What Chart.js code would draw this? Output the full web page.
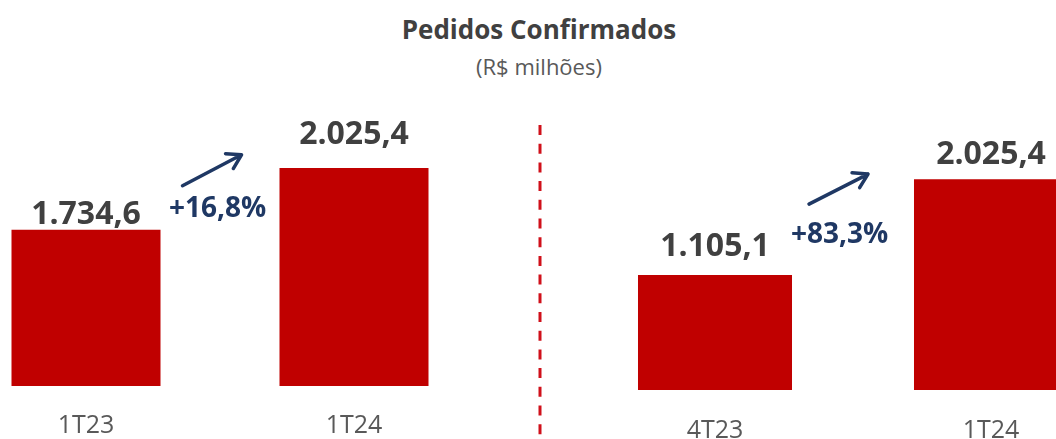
<!DOCTYPE html>
<html>
<head>
<meta charset="utf-8">
<script src="https://cdn.jsdelivr.net/npm/chart.js@4.4.1/dist/chart.umd.min.js"></script>
<style>
body { margin: 0; width: 1056px; height: 439px; overflow: hidden; position: relative; background: #fff; font-family: "Open Sans", sans-serif; }
#title { position: absolute; left: 0; width: 1078px; top: 16px; text-align: center; font-size: 26px; line-height: 26px; font-weight: bold; color: #404040; }
#sub { position: absolute; left: 0; width: 1078px; top: 55px; text-align: center; font-size: 22px; line-height: 22px; color: #595959; }
#sep { position: absolute; left: 538px; top: 125px; }
#left { position: absolute; left: -48px; top: 67px; }
#right { position: absolute; left: 577px; top: 130px; }
</style>
</head>
<body>
<div id="title">Pedidos Confirmados</div>
<div id="sub">(R$ milhões)</div>
<svg id="sep" width="6" height="320"><line x1="2" y1="0" x2="2" y2="320" stroke="#d0101a" stroke-width="3" stroke-dasharray="10 8.7"/></svg>
<canvas id="left" width="536" height="399"></canvas>
<canvas id="right" width="552" height="342"></canvas>
<script>
// annual comparison (1T23 x 1T24)
const yoyLabels = ['1T23', '1T24'];
const yoyValues = [1734.6, 2025.4];
// quarter comparison (4T23 x 1T24)
const qoqLabels = ['4T23', '1T24'];
const qoqValues = [1105.1, 2025.4];

const RED = '#c00000';
const NAVY = '#1f3864';

function fmt(v) {
    // pt-BR style: 1.734,6
    let s = v.toFixed(1).split('.');
    let int = s[0].replace(/\B(?=(\d{3})+(?!\d))/g, '.');
    return int + ',' + s[1];
}

const labelsPlugin = {
    id: 'barLabels',
    afterDatasetsDraw(chart, args, opts) {
        const ctx = chart.ctx;
        const bars = chart.getDatasetMeta(0).data;
        const values = chart.data.datasets[0].data;
        ctx.save();
        ctx.font = 'bold 32px "Open Sans"';
        ctx.fillStyle = '#404040';
        ctx.textAlign = 'center';
        ctx.textBaseline = 'alphabetic';
        bars.forEach((bar, i) => {
            ctx.fillText(fmt(values[i]), bar.x, bar.y - opts.gap[i]);
        });

        // growth arrow + percentage
        const g = opts.growth;
        const m = (bars[0].x + bars[0].width / 2 + bars[1].x - bars[1].width / 2) / 2;
        const t = bars[0].y;
        const pct = (values[1] / values[0] - 1) * 100;
        ctx.font = 'bold 28px "Open Sans"';
        ctx.fillStyle = NAVY;
        ctx.fillText('+' + fmt(pct) + '%', m + g.text[0], t + g.text[1]);

        const x1 = m + g.arrow[0], y1 = t + g.arrow[1];
        const x2 = m + g.arrow[2], y2 = t + g.arrow[3];
        const ang = Math.atan2(y2 - y1, x2 - x1);
        const head = 16;
        ctx.strokeStyle = NAVY;
        ctx.lineWidth = 3.5;
        ctx.lineCap = 'round';
        ctx.lineJoin = 'round';
        ctx.beginPath();
        ctx.moveTo(x1, y1);
        ctx.lineTo(x2, y2);
        ctx.moveTo(x2 - head * Math.cos(ang - 0.55), y2 - head * Math.sin(ang - 0.55));
        ctx.lineTo(x2, y2);
        ctx.lineTo(x2 - head * Math.cos(ang + 0.55), y2 - head * Math.sin(ang + 0.55));
        ctx.stroke();
        ctx.restore();
    }
};

function makeChart(id, labels, values, yMin, barPct, tickPad, labelOpts) {
    const ctx = document.getElementById(id).getContext('2d');
    return new Chart(ctx, {
        type: 'bar',
        data: {
            labels: labels,
            datasets: [{
                data: values,
                backgroundColor: RED,
                categoryPercentage: 1,
                barPercentage: barPct
            }]
        },
        options: {
            responsive: false,
            animation: false,
            layout: { padding: 0 },
            plugins: {
                legend: { display: false },
                tooltip: { enabled: false },
                barLabels: labelOpts
            },
            scales: {
                x: {
                    grid: { display: false, drawTicks: false },
                    border: { display: false },
                    ticks: {
                        padding: tickPad,
                        color: '#595959',
                        font: { family: '"Open Sans"', size: 25 }
                    }
                },
                y: {
                    display: false,
                    min: yMin,
                    max: 2500
                }
            }
        },
        plugins: [labelsPlugin]
    });
}

makeChart('left', yoyLabels, yoyValues, 1000, 0.556, 25, {
    gap: [6, 24],
    growth: { text: [-2.5, -13], arrow: [-37.5, -44, 21.5, -75] }
});
makeChart('right', qoqLabels, qoqValues, 0, 0.558, 26, {
    gap: [19, 15],
    growth: { text: [-13.5, -32], arrow: [-44, -71, 15, -101] }
});
</script>
</body>
</html>
